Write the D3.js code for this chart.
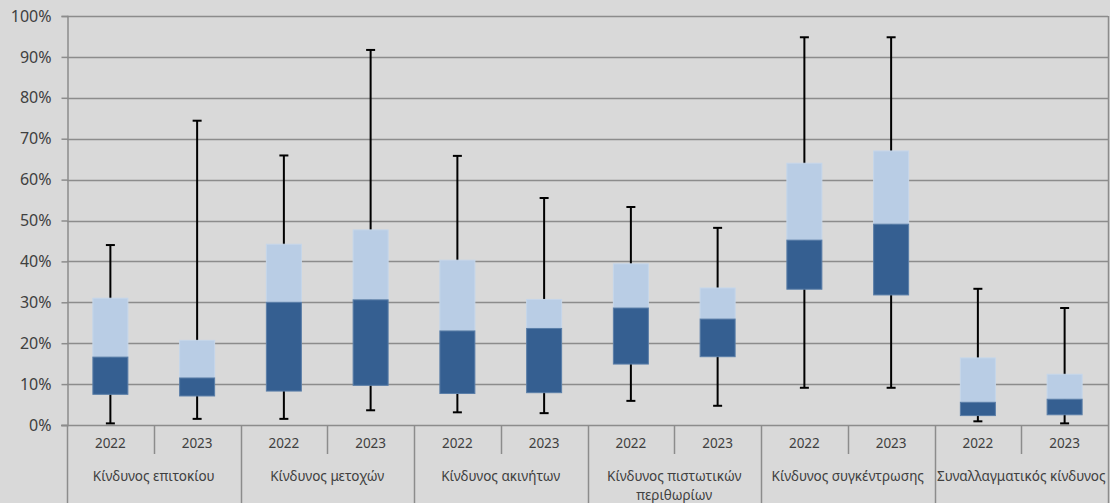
<!DOCTYPE html>
<html>
<head>
<meta charset="utf-8">
<script src="https://cdn.jsdelivr.net/npm/d3@7"></script>
<style>
  html, body { margin: 0; padding: 0; background: #d9d9d9; }
  svg { display: block; }
  text { font-family: "Noto Sans", sans-serif; fill: #404040; }
</style>
</head>
<body>
<svg id="chart" width="1110" height="503"></svg>
<script>
const groups = ["Κίνδυνος επιτοκίου", "Κίνδυνος μετοχών", "Κίνδυνος ακινήτων",
  "Κίνδυνος πιστωτικών\nπεριθωρίων", "Κίνδυνος συγκέντρωσης", "Συναλλαγματικός κίνδυνος"];
const years = ["2022", "2023"];
const minVals = [0.004, 0.015, 0.015, 0.036, 0.031, 0.029, 0.059, 0.047, 0.091, 0.091, 0.009, 0.004];
const q1Vals  = [0.075, 0.071, 0.083, 0.097, 0.077, 0.079, 0.149, 0.167, 0.332, 0.318, 0.023, 0.025];
const medVals = [0.166, 0.115, 0.300, 0.306, 0.230, 0.236, 0.286, 0.259, 0.452, 0.491, 0.0555, 0.063];
const q3Vals  = [0.310, 0.207, 0.442, 0.477, 0.403, 0.307, 0.394, 0.335, 0.640, 0.670, 0.164, 0.124];
const maxVals = [0.440, 0.744, 0.659, 0.917, 0.658, 0.555, 0.533, 0.482, 0.948, 0.948, 0.333, 0.286];
const yTicks = [0, 0.1, 0.2, 0.3, 0.4, 0.5, 0.6, 0.7, 0.8, 0.9, 1.0];

(function () {
const keys = [];
groups.forEach((g, gi) => years.forEach((yr, yi) => keys.push({ g, gi, y: yr, yi, k: gi + "-" + yi })));
const data = keys.map((d, i) => ({ ...d, min: minVals[i], q1: q1Vals[i], med: medVals[i], q3: q3Vals[i], max: maxVals[i] }));

const svg = d3.select("#chart");
const mLeft = 67, mRight = 1108, mTop = 16, mBottom = 425, H = 503;

const x = d3.scaleBand().domain(keys.map(d => d.k)).range([mLeft, mRight]).padding(0);
const gx = d3.scaleBand().domain(groups).range([mLeft, mRight]).padding(0);
const y = d3.scaleLinear().domain([0, 1]).range([mBottom, mTop]);

// gridlines
svg.append("g").selectAll("line").data(yTicks.filter(t => t > 0)).join("line")
  .attr("x1", mLeft).attr("x2", mRight)
  .attr("y1", d => Math.round(y(d)) + 0.5).attr("y2", d => Math.round(y(d)) + 0.5)
  .attr("stroke", "#8c8c8c").attr("stroke-width", 1.5);

// right border
svg.append("line").attr("x1", mRight + 0.5).attr("x2", mRight + 0.5).attr("y1", mTop).attr("y2", mBottom)
  .attr("stroke", "#8c8c8c").attr("stroke-width", 1.5);

// y axis
const yAxis = svg.append("g").attr("transform", `translate(${mLeft + 0.5},0)`)
  .call(d3.axisLeft(y).tickValues(yTicks).tickFormat(d3.format(".0%")).tickSize(6).tickPadding(10));
yAxis.select(".domain").attr("stroke", "#8c8c8c").attr("stroke-width", 1.5);
yAxis.selectAll(".tick line").attr("stroke", "#8c8c8c").attr("stroke-width", 1.5);
yAxis.selectAll(".tick text").attr("font-family", "Noto Sans").attr("font-size", 16).attr("fill", "#404040");

// x axis baseline
svg.append("line").attr("x1", mLeft - 6).attr("x2", mRight).attr("y1", mBottom + 0.5).attr("y2", mBottom + 0.5)
  .attr("stroke", "#8c8c8c").attr("stroke-width", 1.5);

// year separators (inner)
svg.append("g").selectAll("line").data(data.filter(d => d.yi === 1)).join("line")
  .attr("x1", d => Math.round(x(d.k)) + 0.5).attr("x2", d => Math.round(x(d.k)) + 0.5)
  .attr("y1", mBottom).attr("y2", 454)
  .attr("stroke", "#8c8c8c").attr("stroke-width", 1.5);

// group separators
const gEdges = groups.map(g => gx(g)).concat([mRight]);
svg.append("g").selectAll("line").data(gEdges).join("line")
  .attr("x1", d => Math.round(d) + 0.5).attr("x2", d => Math.round(d) + 0.5)
  .attr("y1", mBottom).attr("y2", H)
  .attr("stroke", "#8c8c8c").attr("stroke-width", 1.5);

// year labels
svg.append("g").selectAll("text").data(data).join("text")
  .attr("x", d => x(d.k) + x.bandwidth() / 2).attr("y", 448)
  .attr("text-anchor", "middle").attr("font-size", 13.5).text(d => d.y);

// group labels
const gl = svg.append("g").selectAll("text").data(groups).join("text")
  .attr("x", d => gx(d) + gx.bandwidth() / 2).attr("y", 481)
  .attr("text-anchor", "middle").attr("font-size", 13.5);
gl.each(function (d) {
  const lines = d.split("\n");
  const t = d3.select(this);
  lines.forEach((ln, i) => {
    t.append("tspan").attr("x", gx(d) + gx.bandwidth() / 2).attr("dy", i === 0 ? 0 : 19).text(ln);
  });
});

// boxes
const bw = 35, capW = 9;
const bx = svg.append("g").selectAll("g").data(data).join("g");
const cx = d => x(d.k) + x.bandwidth() / 2;

// whiskers
bx.append("line").attr("x1", cx).attr("x2", cx).attr("y1", d => y(d.max)).attr("y2", d => y(d.min))
  .attr("stroke", "#000").attr("stroke-width", 2);
bx.append("line").attr("x1", d => cx(d) - capW / 2).attr("x2", d => cx(d) + capW / 2)
  .attr("y1", d => y(d.max)).attr("y2", d => y(d.max)).attr("stroke", "#000").attr("stroke-width", 2);
bx.append("line").attr("x1", d => cx(d) - capW / 2).attr("x2", d => cx(d) + capW / 2)
  .attr("y1", d => y(d.min)).attr("y2", d => y(d.min)).attr("stroke", "#000").attr("stroke-width", 2);

// upper (light) box: median to q3
bx.append("rect").attr("x", d => cx(d) - bw / 2).attr("width", bw)
  .attr("y", d => y(d.q3)).attr("height", d => y(d.med) - y(d.q3))
  .attr("fill", "#b9cde5").attr("stroke", "#c5d6ea").attr("stroke-width", 1);
// lower (dark) box: q1 to median
bx.append("rect").attr("x", d => cx(d) - bw / 2).attr("width", bw)
  .attr("y", d => y(d.med)).attr("height", d => y(d.q1) - y(d.med))
  .attr("fill", "#355f91").attr("stroke", "#5a7ea8").attr("stroke-width", 1);
})();
</script>
</body>
</html>
